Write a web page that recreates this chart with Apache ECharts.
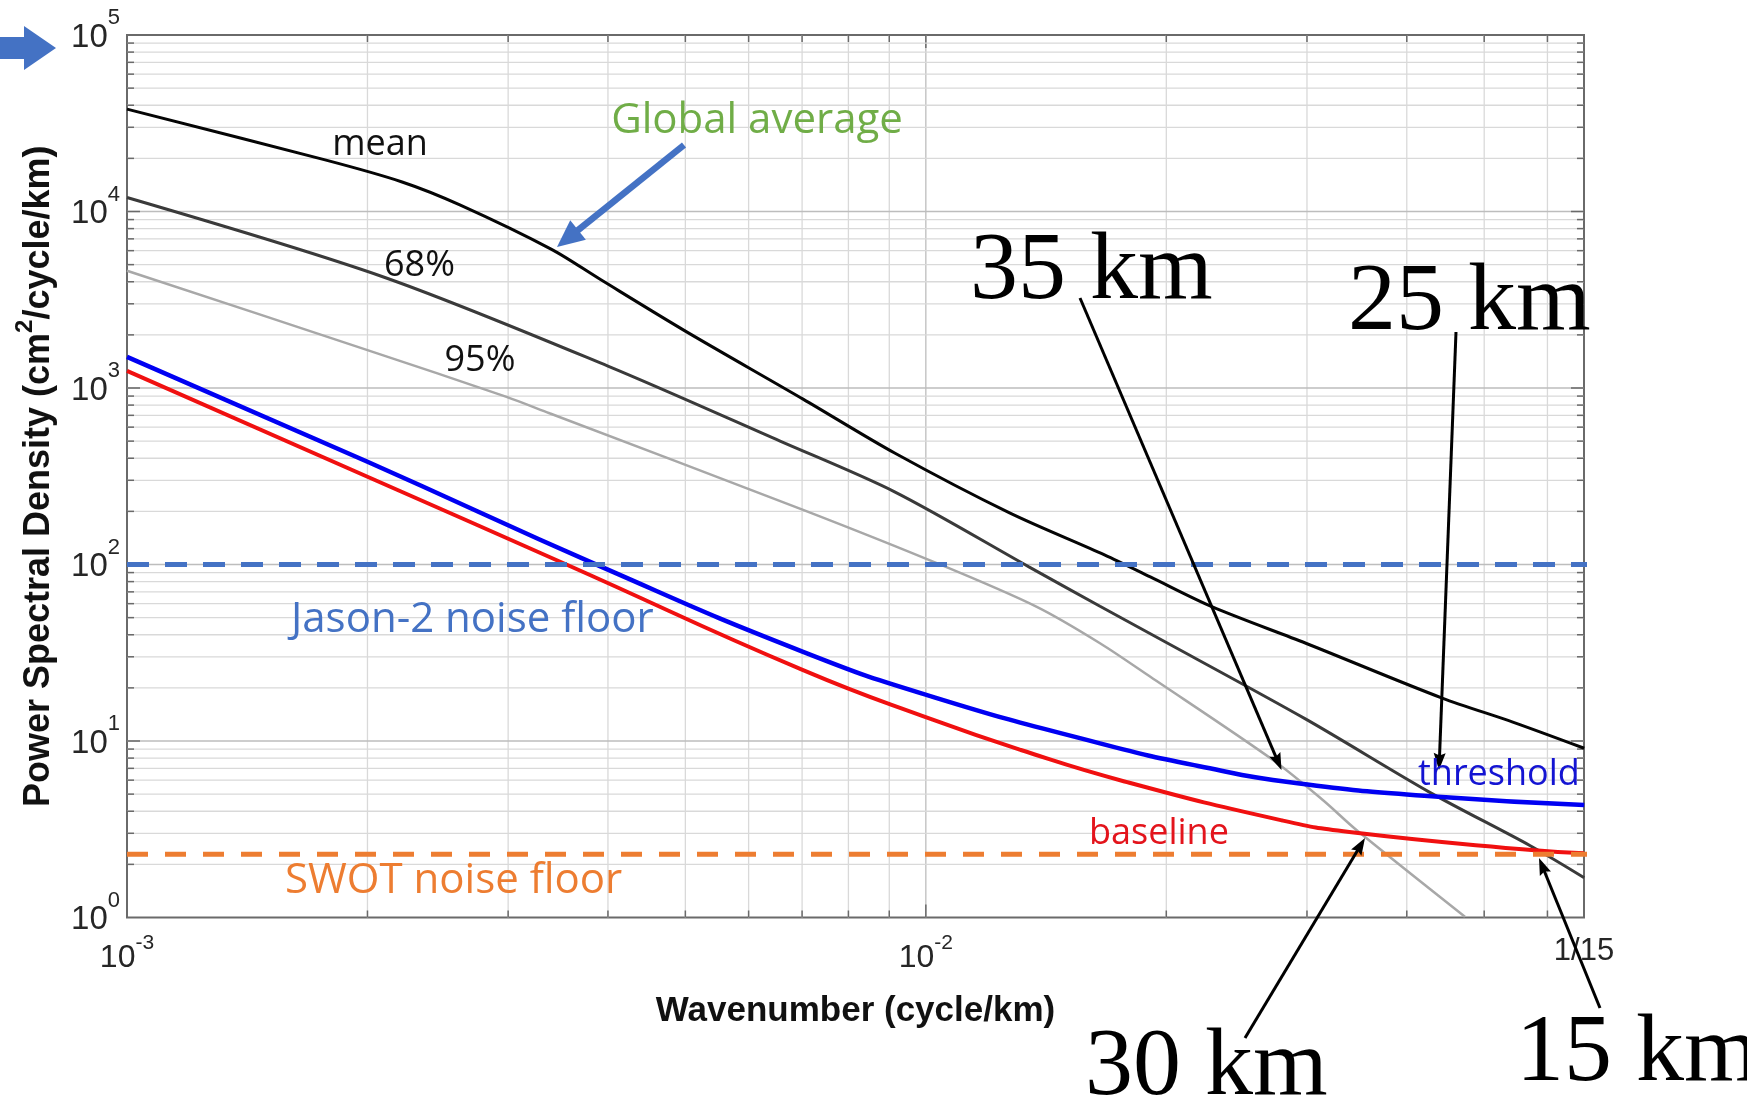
<!DOCTYPE html>
<html><head><meta charset="utf-8">
<script src="https://cdn.jsdelivr.net/npm/echarts@6/dist/echarts.min.js"></script>
<style>html,body{margin:0;padding:0;background:#fff}#c{width:1747px;height:1095px}</style>
</head><body><div id="c"></div>
<script>
// ---------------- DATA ----------------
// wavenumber (cycle/km) and PSD (cm^2/cycle/km)
const meanK = [0.001, 0.00177, 0.00221, 0.00261, 0.0034, 0.00392, 0.005, 0.00702, 0.00914, 0.01273, 0.01676, 0.0191, 0.0228, 0.0299, 0.0443, 0.0543, 0.0667];
const meanP = [38000, 19600, 14700, 10900, 6100, 4100, 2100, 865, 428, 196, 113, 85, 57.7, 35.8, 17.5, 12.8, 9.1];

const p68K = [0.001, 0.00209, 0.004, 0.00657, 0.00914, 0.01346, 0.01652, 0.0191, 0.0299, 0.0428, 0.0571, 0.0667];
const p68P = [12000, 4270, 1330, 500, 258, 97, 58, 40.5, 13.3, 5.1, 2.55, 1.68];

const p95K = [0.001, 0.002, 0.00298, 0.00338, 0.00702, 0.01045, 0.01375, 0.01652, 0.0191, 0.0272, 0.0314, 0.0346, 0.0473];
const p95P = [4620, 1640, 893, 719, 204, 99.4, 57.7, 35.8, 23.1, 7.8, 4.63, 3.13, 1.01];

const thrK = [0.001, 0.002, 0.00392, 0.00702, 0.0102, 0.01652, 0.022, 0.0292, 0.0438, 0.0667];
const thrP = [1500, 382, 97.2, 32, 17.8, 9.7, 7.2, 5.76, 4.83, 4.34];

const basK = [0.001, 0.002, 0.00356, 0.00702, 0.0102, 0.01315, 0.01773, 0.0279, 0.0339, 0.0573, 0.0667];
const basP = [1250, 314, 99.4, 25.2, 13.2, 8.89, 5.9, 3.55, 3.05, 2.41, 2.31];

const jasonFloor = 100;
const swotFloor = 2.28;
const floorK = [0.001, 0.0683];   // dashed floors run slightly past the right edge

// axes
const xMin = 0.001, xMax = 1 / 15;
const yMin = 1, yMax = 100000;
const xTickValues = [0.001, 0.01, 0.0666666];
const xTickLabels = ['10^{-3}', '10^{-2}', '1/15'];
const yTickValues = [1, 10, 100, 1000, 10000, 100000];
const yTickLabels = ['10^{0}', '10^{1}', '10^{2}', '10^{3}', '10^{4}', '10^{5}'];
const xMinor = [0.002, 0.003, 0.004, 0.005, 0.006, 0.007, 0.008, 0.009, 0.02, 0.03, 0.04, 0.05, 0.06];
const xMajorGrid = [0.01];
const yMinor = [2,3,4,5,6,7,8,9, 20,30,40,50,60,70,80,90, 200,300,400,500,600,700,800,900,
                2000,3000,4000,5000,6000,7000,8000,9000, 20000,30000,40000,50000,60000,70000,80000,90000];
const yMajorGrid = [10, 100, 1000, 10000];

// ---------------- CHART ----------------
const zip = (a, b) => a.map((v, i) => [v, b[i]]);
function richLabel(t) {
  const m = /^10\^\{(.+)\}$/.exec(t);
  return m ? '{b|10}{s|' + m[1] + '}' : '{p|' + t + '}';
}
function nearestIdx(arr, v) {
  let best = 0, bd = Infinity;
  arr.forEach((a, i) => { const d = Math.abs(Math.log10(a) - Math.log10(v)); if (d < bd) { bd = d; best = i; } });
  return best;
}

const GRID_MAJOR = '#bdbdbd', GRID_MINOR = '#d9d9d9', TICK = '#6a6a6a';

function vGrid(params, api) {
  const cs = params.coordSys;
  const x = api.coord([api.value(0), 10])[0];
  const major = api.value(2) === 1;
  const L = major ? 13 : 7;
  const top = cs.y, bot = cs.y + cs.height;
  return { type: 'group', children: [
    { type: 'line', shape: { x1: x, y1: top, x2: x, y2: bot }, style: { stroke: major ? GRID_MAJOR : GRID_MINOR, lineWidth: 1.3 } },
    { type: 'line', shape: { x1: x, y1: bot, x2: x, y2: bot - L }, style: { stroke: TICK, lineWidth: 1.5 } },
    { type: 'line', shape: { x1: x, y1: top, x2: x, y2: top + L }, style: { stroke: TICK, lineWidth: 1.5 } }
  ]};
}
function hGrid(params, api) {
  const cs = params.coordSys;
  const y = api.coord([0.01, api.value(1)])[1];
  const major = api.value(2) === 1;
  const L = major ? 13 : 7;
  const lft = cs.x, rgt = cs.x + cs.width;
  return { type: 'group', children: [
    { type: 'line', shape: { x1: lft, y1: y, x2: rgt, y2: y }, style: { stroke: major ? GRID_MAJOR : GRID_MINOR, lineWidth: 1.3 } },
    { type: 'line', shape: { x1: lft, y1: y, x2: lft + L, y2: y }, style: { stroke: TICK, lineWidth: 1.5 } },
    { type: 'line', shape: { x1: rgt, y1: y, x2: rgt - L, y2: y }, style: { stroke: TICK, lineWidth: 1.5 } }
  ]};
}

function arrow(x1, y1, x2, y2, color, w, hl, hw, notch) {
  const dx = x2 - x1, dy = y2 - y1, L = Math.hypot(dx, dy), ux = dx / L, uy = dy / L;
  const bx = x2 - ux * hl, by = y2 - uy * hl, px = -uy, py = ux;
  const nb = notch || 0;
  return [
    { type: 'line', z: 100, shape: { x1, y1, x2: bx + ux * hl * 0.4, y2: by + uy * hl * 0.4 }, style: { stroke: color, lineWidth: w } },
    { type: 'polygon', z: 101, shape: { points: [[x2, y2], [bx + px * hw / 2, by + py * hw / 2], [bx + ux * hl * nb, by + uy * hl * nb], [bx - px * hw / 2, by - py * hw / 2]] }, style: { fill: color } }
  ];
}
function txt(text, x, y, size, color, family, align) {
  return { type: 'text', z: 102, x, y, style: { text, fill: color, fontSize: size, fontFamily: family, align: align || 'left', verticalAlign: 'middle' } };
}
const SANS = '"Open Sans", "Noto Sans", sans-serif';
const SERIF = '"Liberation Serif", "DejaVu Serif", serif';

const graphics = [
  { type: 'polygon', z: 100, shape: { points: [[0, 37], [24, 37], [24, 26], [56, 48], [24, 70], [24, 59], [0, 59]] }, style: { fill: '#4472C4' } },
  ...arrow(684, 145, 557, 247, '#4472C4', 6.5, 27, 25, 0),
  ...arrow(1080, 298, 1281.5, 770, '#000', 3, 17, 12, 0.15),
  ...arrow(1456, 332, 1439, 770, '#000', 3, 17, 12, 0.15),
  ...arrow(1245, 1038, 1365, 838, '#000', 3, 17, 12, 0.15),
  ...arrow(1600, 1008, 1539, 858, '#000', 3, 17, 12, 0.15),
  txt('Global average', 757, 121, 42, '#70AD47', SANS, 'center'),
  txt('mean', 380, 144.5, 36, '#111', SANS, 'center'),
  txt('68%', 419.5, 266, 36, '#111', SANS, 'center'),
  txt('95%', 480, 361, 36, '#111', SANS, 'center'),
  txt('Jason-2 noise floor', 291, 620, 42, '#4472C4', SANS, 'left'),
  txt('SWOT noise floor', 285, 881, 42, '#ED7D31', SANS, 'left'),
  txt('baseline', 1089, 834, 36, '#E3141C', SANS, 'left'),
  txt('threshold', 1418, 775, 36, '#1414D2', SANS, 'left'),
  txt('35 km', 970, 273, 96, '#000', SERIF, 'left'),
  txt('25 km', 1348, 304, 96, '#000', SERIF, 'left'),
  txt('30 km', 1085, 1069, 96, '#000', SERIF, 'left'),
  txt('15 km', 1516, 1055, 96, '#000', SERIF, 'left')
];

const option = {
  animation: false,
  backgroundColor: '#fff',
  grid: { left: 127, top: 35, width: 1457, height: 882.5, show: true, borderColor: '#6a6a6a', borderWidth: 2, backgroundColor: 'transparent' },
  xAxis: {
    type: 'log', logBase: 10, min: xMin, max: xMax,
    axisLine: { show: false }, axisTick: { show: false }, splitLine: { show: false }, minorTick: { show: false }, minorSplitLine: { show: false },
    name: 'Wavenumber (cycle/km)', nameLocation: 'middle', nameGap: 76,
    nameTextStyle: { fontFamily: '"Liberation Sans", Arial, sans-serif', fontWeight: 'bold', fontSize: 35, color: '#111' },
    axisLabel: {
      customValues: xTickValues, margin: 15, showMinLabel: true, showMaxLabel: true,
      formatter: (v) => richLabel(xTickLabels[nearestIdx(xTickValues, v)]),
      rich: {
        b: { fontFamily: '"Liberation Sans", Arial', fontSize: 32, color: '#262626', padding: [10, 0, 0, 0] },
        s: { fontFamily: '"Liberation Sans", Arial', fontSize: 21, color: '#262626', verticalAlign: 'top' },
        p: { fontFamily: '"Liberation Sans", Arial', fontSize: 31, color: '#262626', padding: [3, 0, 0, 0] }
      }
    }
  },
  yAxis: {
    type: 'log', logBase: 10, min: yMin, max: yMax,
    axisLine: { show: false }, axisTick: { show: false }, splitLine: { show: false }, minorTick: { show: false }, minorSplitLine: { show: false },
    name: '{a|Power Spectral Density (cm}{s|2}{a|/cycle/km)}', nameLocation: 'middle', nameGap: 70, nameRotate: 90,
    nameTextStyle: {
      rich: {
        a: { fontFamily: '"Liberation Sans", Arial, sans-serif', fontWeight: 'bold', fontSize: 36, color: '#111', padding: [8, 0, 0, 0] },
        s: { fontFamily: '"Liberation Sans", Arial, sans-serif', fontWeight: 'bold', fontSize: 24, color: '#111', verticalAlign: 'top' }
      }
    },
    axisLabel: {
      customValues: yTickValues, margin: 7, showMinLabel: true, showMaxLabel: true,
      formatter: (v) => richLabel(yTickLabels[nearestIdx(yTickValues, v)]),
      rich: {
        b: { fontFamily: '"Liberation Sans", Arial', fontSize: 33, color: '#262626', padding: [14, 0, 9, 0] },
        s: { fontFamily: '"Liberation Sans", Arial', fontSize: 22, color: '#262626', verticalAlign: 'top' }
      }
    }
  },
  series: [
    { type: 'custom', name: 'xgrid', coordinateSystem: 'cartesian2d', silent: true, z: 1, renderItem: vGrid,
      encode: { x: 0, y: 1 },
      data: xMajorGrid.map(v => [v, 10, 1]).concat(xMinor.map(v => [v, 10, 0])) },
    { type: 'custom', name: 'ygrid', coordinateSystem: 'cartesian2d', silent: true, z: 1, renderItem: hGrid,
      encode: { x: 0, y: 1 },
      data: yMajorGrid.map(v => [0.01, v, 1]).concat(yMinor.map(v => [0.01, v, 0])) },
    { type: 'line', name: '95%', data: zip(p95K, p95P), showSymbol: false, smooth: 0.3, z: 3, lineStyle: { color: '#a8a8a8', width: 2.5 } },
    { type: 'line', name: '68%', data: zip(p68K, p68P), showSymbol: false, smooth: 0.3, z: 4, lineStyle: { color: '#3a3a3a', width: 3 } },
    { type: 'line', name: 'mean', data: zip(meanK, meanP), showSymbol: false, smooth: 0.3, z: 5, lineStyle: { color: '#050505', width: 3 } },
    { type: 'line', name: 'baseline', data: zip(basK, basP), showSymbol: false, smooth: 0.5, z: 6, lineStyle: { color: '#f01010', width: 4 } },
    { type: 'line', name: 'threshold', data: zip(thrK, thrP), showSymbol: false, smooth: 0.5, z: 7, lineStyle: { color: '#0000f2', width: 4.5 } },
    { type: 'line', name: 'Jason-2 noise floor', data: floorK.map(k => [k, jasonFloor]), showSymbol: false, clip: false, z: 8,
      lineStyle: { color: '#4472C4', width: 5, type: [22, 16] } },
    { type: 'line', name: 'SWOT noise floor', data: floorK.map(k => [k, swotFloor]), showSymbol: false, clip: false, z: 8,
      lineStyle: { color: '#ED7D31', width: 5, type: [21, 17] } }
  ],
  graphic: graphics
};

const chart = echarts.init(document.getElementById('c'), null, { renderer: 'canvas' });
chart.setOption(option);
</script></body></html>
